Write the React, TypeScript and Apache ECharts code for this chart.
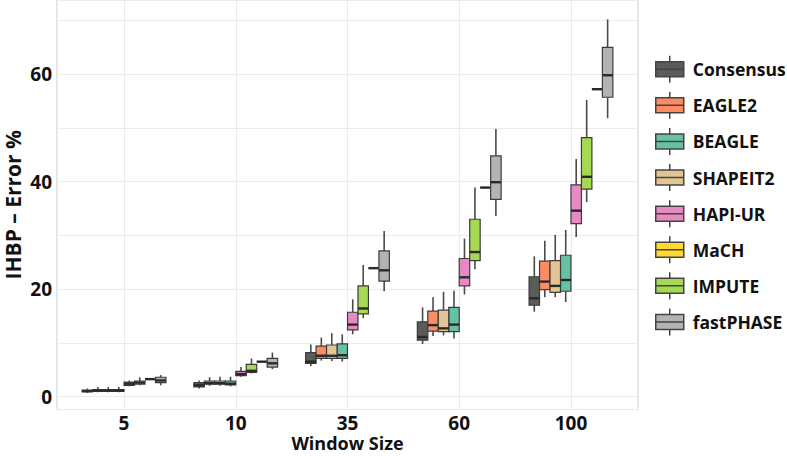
import React, { useEffect, useRef } from "react";
import * as echarts from "echarts";

const categories = ["5", "10", "35", "60", "100"];
const methods = ["Consensus", "EAGLE2", "BEAGLE", "SHAPEIT2", "HAPI-UR", "MaCH", "IMPUTE", "fastPHASE"];
const colors = ["#5b5b5b", "#fc8d62", "#66c2a5", "#e5c494", "#e78ac3", "#ffd92f", "#a6d854", "#b3b3b3"];
// position of each method inside a window group (0 = leftmost)
const slots = [0, 1, 3, 2, 4, 6, 5, 7];

// [min, q1, median, q3, max] per window size
const consensus = [[0.7, 0.9, 1.0, 1.2, 1.5], [1.5, 1.8, 2.1, 2.6, 3.0], [5.7, 6.2, 6.5, 8.2, 9.7], [9.8, 10.5, 11.1, 13.9, 16.6], [15.8, 17.0, 18.3, 22.3, 26.1]];
const eagle2 = [[0.8, 1.0, 1.1, 1.3, 1.8], [2.0, 2.3, 2.5, 2.9, 3.6], [6.7, 7.1, 7.6, 9.4, 11.0], [11.3, 12.2, 13.3, 15.9, 18.5], [18.5, 19.9, 21.4, 25.2, 29.0]];
const beagle = [[0.8, 1.0, 1.1, 1.3, 1.8], [1.9, 2.2, 2.4, 2.9, 3.7], [6.5, 7.1, 7.7, 9.8, 11.6], [10.8, 12.1, 13.4, 16.6, 19.7], [17.6, 19.6, 21.7, 26.3, 31.0]];
const shapeit2 = [[0.8, 1.0, 1.1, 1.3, 1.8], [2.0, 2.3, 2.5, 2.9, 3.7], [6.6, 7.1, 7.6, 9.6, 11.8], [11.4, 12.1, 12.7, 16.1, 19.5], [18.5, 19.4, 20.6, 25.3, 30.1]];
const hapiur = [[1.9, 2.1, 2.4, 2.7, 3.0], [3.7, 3.9, 4.2, 4.7, 5.5], [11.6, 12.4, 13.4, 15.7, 18.1], [19.0, 20.6, 22.2, 25.7, 29.4], [29.7, 32.2, 34.6, 39.4, 44.2]];
const mach = [[3.25, 3.25, 3.25, 3.25, 3.25], [6.5, 6.5, 6.5, 6.5, 6.5], [23.9, 23.9, 23.9, 23.9, 23.9], [38.9, 38.9, 38.9, 38.9, 38.9], [57.2, 57.2, 57.2, 57.2, 57.2]];
const impute = [[2.1, 2.3, 2.6, 2.9, 3.6], [4.3, 4.5, 4.8, 6.0, 7.1], [14.6, 15.4, 16.4, 20.6, 24.5], [23.7, 25.3, 26.9, 33.0, 38.9], [36.2, 38.6, 40.9, 48.2, 55.2]];
const fastphase = [[2.1, 2.6, 3.0, 3.6, 4.0], [5.1, 5.5, 6.2, 7.1, 8.2], [19.6, 21.5, 23.5, 27.1, 30.8], [33.6, 36.7, 39.9, 44.8, 49.8], [51.8, 55.7, 59.8, 65.0, 70.2]];
const allStats = [consensus, eagle2, beagle, shapeit2, hapiur, mach, impute, fastphase];

const FONT = "Open Sans";

export default function App() {
  const ref = useRef<HTMLDivElement>(null);
  useEffect(() => {
    if (!ref.current) return;
    const chart = echarts.init(ref.current, undefined, { renderer: "svg" });
    const series = methods.map((name, m) => ({
      type: "custom",
      name,
      itemStyle: { color: colors[m] },
      encode: { x: 0, y: [1, 2, 3, 4, 5] },
      data: allStats[m].map((s, i) => [i, ...s]),
      renderItem: (params: any, api: any) => {
        const idx = api.value(0);
        const unit = api.size([1, 0])[0];
        const slotW = (unit * 0.75) / 8;
        const center = api.coord([idx, 0])[0];
        const cx = center + (slots[m] - 3.5) * slotW;
        const half = slotW / 2;
        const yMin = api.coord([idx, api.value(1)])[1];
        const yQ1 = api.coord([idx, api.value(2)])[1];
        const yMed = api.coord([idx, api.value(3)])[1];
        const yQ3 = api.coord([idx, api.value(4)])[1];
        const yMax = api.coord([idx, api.value(5)])[1];
        const wStyle = { stroke: "#4a4a4a", lineWidth: 1.6 };
        return {
          type: "group",
          children: [
            { type: "line", shape: { x1: cx, y1: yMax, x2: cx, y2: yQ3 }, style: wStyle },
            { type: "line", shape: { x1: cx, y1: yQ1, x2: cx, y2: yMin }, style: wStyle },
            { type: "rect", shape: { x: cx - half, y: yQ3, width: slotW, height: yQ1 - yQ3 }, style: { fill: colors[m], stroke: "#3c3c3c", lineWidth: 1.2 } },
            { type: "line", shape: { x1: cx - half, y1: yMed, x2: cx + half, y2: yMed }, style: { stroke: "#2a2a2a", lineWidth: 2.4 } },
          ],
        };
      },
    }));
    chart.setOption({
      animation: false,
      backgroundColor: "#ffffff",
      grid: {
        left: 57,
        right: 149,
        top: 0,
        bottom: 46.5,
        show: true,
        borderColor: "#c8c8c8",
        borderWidth: 1,
        containLabel: false,
        outerBoundsMode: "none",
      },
      xAxis: {
        type: "value",
        min: -0.6,
        max: 4.6,
        name: "Window Size",
        nameLocation: "middle",
        nameGap: 24,
        nameMoveOverlap: false,
        nameTextStyle: { fontFamily: FONT, fontWeight: "bold", fontSize: 18, lineHeight: 18, color: "#111" },
        axisLine: { show: false },
        axisTick: { show: false },
        splitLine: { show: true, lineStyle: { color: "#ebebeb", width: 1 } },
        axisLabel: {
          margin: 4,
          fontFamily: FONT,
          fontWeight: "bold",
          fontSize: 19,
          lineHeight: 19,
          color: "#111",
          formatter: (v: number) => (Number.isInteger(v) && v >= 0 && v < categories.length ? categories[v] : ""),
        },
      },
      yAxis: {
        type: "value",
        min: -2.4,
        max: 73.8,
        splitNumber: 8,
        name: "IHBP – Error %",
        nameLocation: "middle",
        nameGap: 34,
        nameMoveOverlap: false,
        nameTextStyle: { fontFamily: FONT, fontWeight: "bold", fontSize: 21, lineHeight: 21, color: "#111" },
        axisLine: { show: false },
        axisTick: { show: false },
        splitLine: { show: true, lineStyle: { color: "#ebebeb", width: 1 } },
        axisLabel: {
          margin: 5,
          fontFamily: FONT,
          fontWeight: "bold",
          fontSize: 19,
          color: "#111",
          formatter: (v: number) => (Math.abs(v % 20) < 1e-9 ? String(v) : ""),
        },
      },
      legend: {
        orient: "vertical",
        left: 650,
        top: 50,
        itemWidth: 30,
        itemHeight: 27,
        itemGap: 7.6,
        selectedMode: false,
        icon: "path://M15 0V6M1 6H29V21H1ZM1 13.5H29M15 21V27",
        itemStyle: { borderColor: "#444", borderWidth: 1.5 },
        textStyle: { fontFamily: FONT, fontWeight: "bold", fontSize: 17.5, color: "#111", padding: [0, 0, 0, 3] },
        data: methods,
      },
      series,
    });
    return () => chart.dispose();
  }, []);
  return <div ref={ref} style={{ position: "fixed", left: 0, top: 0, width: 787, height: 456 }} />;
}
